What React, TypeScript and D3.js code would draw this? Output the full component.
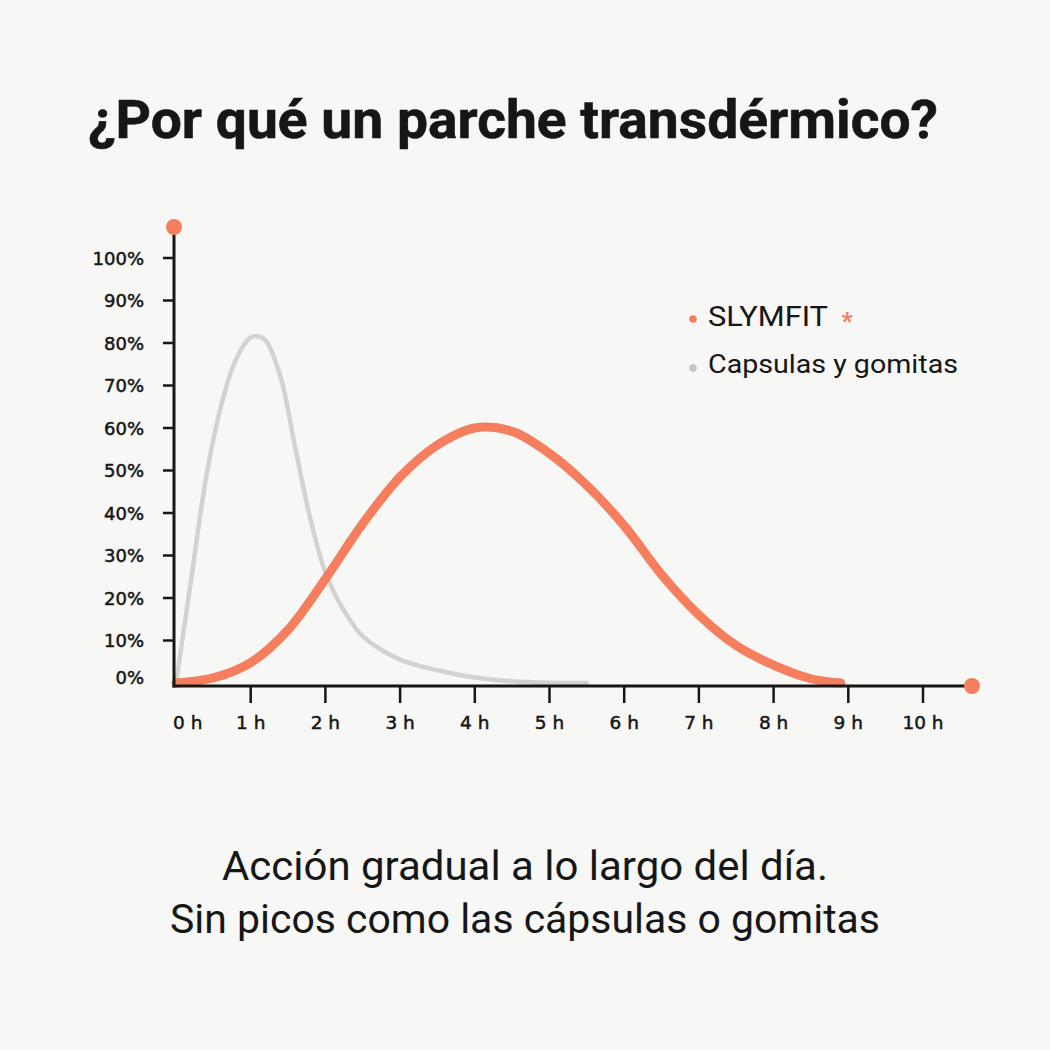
import React from "react";
import * as d3 from "d3";

const title = "¿Por qué un parche transdérmico?";
const subtitleLines = ["Acción gradual a lo largo del día.", "Sin picos como las cápsulas o gomitas"];
const seriesNames = ["SLYMFIT", "Capsulas y gomitas"];

const hourTicks = [0, 1, 2, 3, 4, 5, 6, 7, 8, 9, 10];
const percentTicks = [0, 10, 20, 30, 40, 50, 60, 70, 80, 90, 100];

const slymfitHours = [0, 0.5, 1, 1.5, 2, 2.5, 3, 3.5, 4, 4.5, 5, 5.5, 6, 6.5, 7, 7.5, 8, 8.5, 8.9];
const slymfitValues = [0, 1.2, 4.8, 12.5, 24.5, 37.5, 48.5, 56, 60, 59.2, 54, 46.5, 37, 25.5, 16, 8.8, 4.2, 1, 0];

const capsHours = [0, 0.2, 0.4, 0.6, 0.8, 1.0, 1.1, 1.2, 1.4, 1.6, 1.8, 2.0, 2.25, 2.5, 3, 3.5, 4, 4.5, 5, 5.5];
const capsValues = [0, 24, 48, 65, 76, 81.3, 81.6, 80.6, 72, 55, 38.5, 26, 17, 11, 5.5, 3, 1.3, 0.4, 0.05, 0];

const ORANGE = "#F57E5E";
const GREY = "#D2D2D0";
const INK = "#161616";
const BG = "#F7F7F5";

export default function App() {
  const W = 1050, H = 1050;
  const axisX = 174;
  const axisY = 686;
  const x = d3.scaleLinear().domain([0, 10]).range([176, 923]);
  const y = d3.scaleLinear().domain([0, 100]).range([683, 258]);

  const line = d3
    .line<[number, number]>()
    .x((d) => x(d[0]))
    .y((d) => Math.min(y(d[1]), y(0)))
    .curve(d3.curveCatmullRom.alpha(0.5));

  const slym = line(slymfitHours.map((h, i) => [h, slymfitValues[i]] as [number, number])) || "";
  const caps = line(capsHours.map((h, i) => [h, capsValues[i]] as [number, number])) || "";

  const tickFont = "'DejaVu Sans', Verdana, sans-serif";
  const dinFont = "Roboto, 'DejaVu Sans', sans-serif";

  return (
    <svg
      width={W}
      height={H}
      viewBox={`0 0 ${W} ${H}`}
      style={{ position: "absolute", left: 0, top: 0, display: "block" }}
    >
      <rect x={0} y={0} width={W} height={H} fill={BG} />

      <text
        x={88}
        y={138}
        fontFamily={dinFont}
        fontWeight={700}
        fontSize={54}
        fill={INK}
        stroke={INK}
        strokeWidth={0.6}
        textLength={850}
        lengthAdjust="spacingAndGlyphs"
      >
        {title}
      </text>

      {/* curves */}
      <path d={caps} fill="none" stroke={GREY} strokeWidth={4.5} strokeLinecap="round" />
      <path d={slym} fill="none" stroke={ORANGE} strokeWidth={9} strokeLinecap="round" />

      {/* axes */}
      <line x1={axisX} y1={227} x2={axisX} y2={axisY + 1.5} stroke={INK} strokeWidth={3} />
      <line x1={axisX - 1.5} y1={axisY} x2={972} y2={axisY} stroke={INK} strokeWidth={3} />
      <circle cx={axisX} cy={227} r={8} fill={ORANGE} />
      <circle cx={972} cy={axisY} r={8} fill={ORANGE} />

      {percentTicks.map((t) => (
        <g key={"y" + t}>
          {t > 0 && <line x1={163} x2={axisX} y1={y(t)} y2={y(t)} stroke={INK} strokeWidth={2.5} />}
          <text
            x={144}
            y={t === 0 ? y(t) - 6 : y(t)}
            textAnchor="end"
            dominantBaseline="central"
            fontFamily={tickFont}
            fontSize={18}
            fill={INK}
            stroke={INK}
            strokeWidth={0.5}
          >
            {t}%
          </text>
        </g>
      ))}

      {hourTicks.map((t) => (
        <g key={"x" + t}>
          {t > 0 && <line x1={x(t)} x2={x(t)} y1={axisY} y2={703} stroke={INK} strokeWidth={2.5} />}
          <text
            x={t === 0 ? axisX - 1 : x(t)}
            y={722}
            textAnchor={t === 0 ? "start" : "middle"}
            dominantBaseline="central"
            fontFamily={tickFont}
            fontSize={18.5}
            fill={INK}
            stroke={INK}
            strokeWidth={0.5}
          >
            {t} h
          </text>
        </g>
      ))}

      {/* legend */}
      <circle cx={693} cy={319} r={3.8} fill={ORANGE} />
      <text x={708} y={316} dominantBaseline="central" fontFamily={dinFont} fontSize={28} fill={INK} textLength={120} lengthAdjust="spacingAndGlyphs">
        {seriesNames[0]}
      </text>
      <text x={847} y={321} textAnchor="middle" dominantBaseline="central" fontFamily={dinFont} fontWeight={900} fontSize={24} fill={ORANGE}>
        *
      </text>
      <circle cx={693} cy={368} r={3.8} fill="#C4C4C2" />
      <text x={708} y={364} dominantBaseline="central" fontFamily={dinFont} fontSize={26} fill={INK} textLength={250} lengthAdjust="spacingAndGlyphs">
        {seriesNames[1]}
      </text>

      {/* bottom text */}
      {subtitleLines.map((s, i) => (
        <text
          key={s}
          x={525}
          y={880 + i * 53}
          textAnchor="middle"
          fontFamily={dinFont}
          fontSize={40}
          fill={INK}
          textLength={i === 0 ? 606 : 710}
          lengthAdjust="spacingAndGlyphs"
        >
          {s}
        </text>
      ))}
    </svg>
  );
}
